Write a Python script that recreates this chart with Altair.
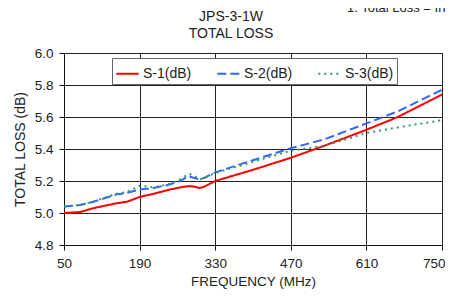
import altair as alt
import pandas as pd

freq = [50, 80, 104, 146, 166, 190, 216, 244, 265, 281, 290, 301, 310, 330, 400, 470, 532, 610, 668, 750]
s1 = [5.00, 5.006, 5.03, 5.06, 5.07, 5.10, 5.12, 5.145, 5.16, 5.168, 5.166, 5.156, 5.165, 5.20, 5.27, 5.345, 5.42, 5.52, 5.60, 5.74]
s2 = [5.04, 5.05, 5.07, 5.115, 5.125, 5.146, 5.156, 5.177, 5.20, 5.23, 5.22, 5.21, 5.22, 5.254, 5.33, 5.405, 5.46, 5.56, 5.635, 5.77]
s3 = [5.04, 5.05, 5.07, 5.12, 5.13, 5.17, 5.16, 5.18, 5.21, 5.245, 5.235, 5.21, 5.22, 5.25, 5.32, 5.39, 5.42, 5.50, 5.535, 5.58]
series_names = ["S-1(dB)", "S-2(dB)", "S-3(dB)"]
series_colors = ["#ff0000", "#3366ff", "#339966"]
x_ticks = [50, 190, 330, 470, 610, 750]
y_ticks = [4.8, 5.0, 5.2, 5.4, 5.6, 5.8, 6.0]
title_lines = ["JPS-3-1W", "TOTAL LOSS"]
note_text = ["1. Total Loss = Insertion Loss + 3 dB"]

rows = []
for name, vals in zip(series_names, [s1, s2, s3]):
    for f, v in zip(freq, vals):
        rows.append({"freq": f, "loss": v, "series": name})
df = pd.DataFrame(rows)

FONT = "Liberation Sans"

legend_cfg = dict(title=None, orient="none", legendX=48, legendY=5,
                  direction="horizontal", columns=3,
                  symbolType="stroke", symbolSize=500,
                  symbolStrokeWidth=2, labelOffset=3,
                  columnPadding=21, padding=3,
                  fillColor="white", strokeColor="#666",
                  labelFont=FONT, labelFontSize=14,
                  labelColor="#222")

lines = alt.Chart(df).mark_line(strokeWidth=2, clip=True).encode(
    x=alt.X("freq:Q", scale=alt.Scale(domain=[50, 750], nice=False),
            axis=alt.Axis(values=x_ticks, title="FREQUENCY (MHz)", tickSize=5,
                          labelPadding=6, titlePadding=5, format="d",
                          labelFlush=False, titleFontSize=13.5,
                          labelAlign={"condition": {"test": "datum.value >= 750", "value": "right"},
                                      "value": "center"},
                          labelOffset={"condition": {"test": "datum.value >= 750", "value": 3},
                                       "value": 0})),
    y=alt.Y("loss:Q", scale=alt.Scale(domain=[4.8, 6.0], nice=False, zero=False),
            axis=alt.Axis(values=y_ticks, title="TOTAL LOSS (dB)", tickSize=5,
                          labelPadding=6, titlePadding=7, format=".1f",
                          labelFlush=False)),
    color=alt.Color("series:N", sort=series_names,
                    scale=alt.Scale(domain=series_names, range=series_colors),
                    legend=alt.Legend(**legend_cfg)),
    strokeDash=alt.StrokeDash("series:N", sort=series_names,
                              scale=alt.Scale(domain=series_names,
                                              range=[[1, 0], [9, 4], [2, 4]]),
                              legend=alt.Legend(**legend_cfg)),
)

note = alt.Chart(pd.DataFrame({"t": note_text})).mark_text(
    align="left", baseline="alphabetic", font=FONT, fontSize=13, color="#222"
).encode(text="t:N", x=alt.value(283), y=alt.value(-41))

title_df = pd.DataFrame({"t": title_lines, "yy": [-32.5, -15]})
titles = alt.Chart(title_df).mark_text(
    align="center", baseline="alphabetic", font=FONT, fontSize=14, color="#222"
).encode(text="t:N", x=alt.value(167), y=alt.Y("yy:Q", scale=None))

chart = alt.layer(lines, titles, note).properties(
    width=378, height=192,
    autosize=alt.AutoSizeParams(type="none"),
    padding={"left": 56, "top": 45, "right": 3, "bottom": 44},
).configure_axis(
    grid=True, gridColor="#222", gridWidth=1, gridOpacity=1,
    domainColor="#111", tickColor="#111", labelFont=FONT, titleFont=FONT,
    labelFontSize=13.5, titleFontSize=14, labelColor="#222", titleColor="#222",
    titleFontWeight="normal"
).configure_view(stroke="#111", strokeWidth=1)

chart.save("out.html", embed_options={"renderer": "svg", "actions": False})
